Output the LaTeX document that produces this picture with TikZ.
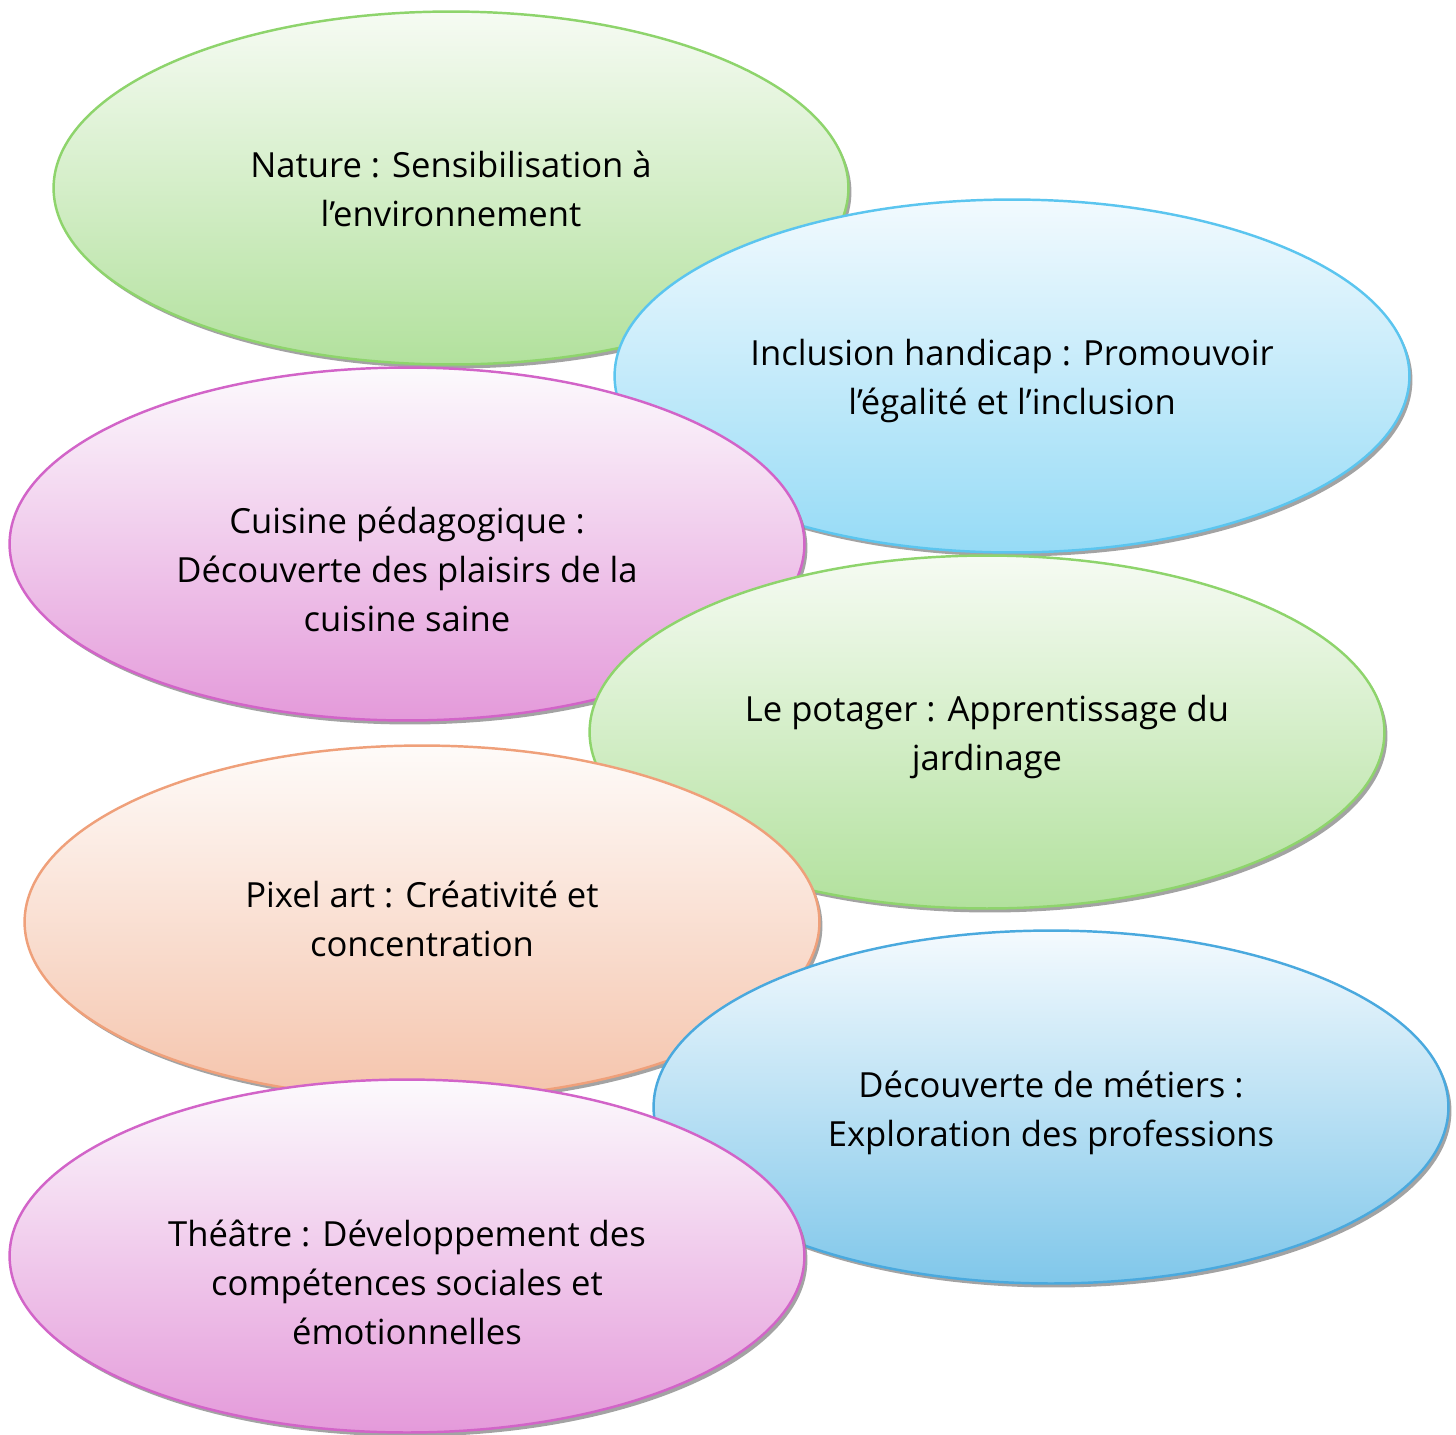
\documentclass[tikz,border=0pt]{standalone}
\usepackage{fontspec}
\setmainfont{Open Sans}
\usetikzlibrary{shapes.geometric,shadows}
\definecolor{vertT}{HTML}{8ED46C}
\definecolor{vertH}{HTML}{F6FBF3}
\definecolor{vertB}{HTML}{B2E19D}
\definecolor{bleuT}{HTML}{5BC5EF}
\definecolor{bleuH}{HTML}{F2FAFE}
\definecolor{bleuB}{HTML}{96DBF6}
\definecolor{roseT}{HTML}{D264C8}
\definecolor{roseH}{HTML}{FCFAFD}
\definecolor{roseB}{HTML}{E49ADA}
\definecolor{orangeT}{HTML}{EFA07A}
\definecolor{orangeH}{HTML}{FEFBF9}
\definecolor{orangeB}{HTML}{F5C4AC}
\definecolor{azurT}{HTML}{4AA9DE}
\definecolor{azurH}{HTML}{F4FAFE}
\definecolor{azurB}{HTML}{80C7EA}

\begin{document}
\begin{tikzpicture}[line cap=round,line join=round,x=0.02cm,y=-0.02cm,
  bulle/.style={ellipse,minimum width=15.9cm,minimum height=7.06cm,line width=1.4pt,
    drop shadow={shadow xshift=0.06cm,shadow yshift=-0.08cm,fill=black!45,opacity=0.8}},
  vert/.style={bulle,draw=vertT,top color=vertH,bottom color=vertB},
  bleu/.style={bulle,draw=bleuT,top color=bleuH,bottom color=bleuB},
  rose/.style={bulle,draw=roseT,top color=roseH,bottom color=roseB},
  orange/.style={bulle,draw=orangeT,top color=orangeH,bottom color=orangeB},
  azur/.style={bulle,draw=azurT,top color=azurH,bottom color=azurB},
  txt/.style={align=center,anchor=north,inner sep=0pt,font=\fontsize{19.7}{27.9}\selectfont}]
\useasboundingbox (0,0) rectangle (1456,1434);
% les bulles, de haut en bas
\node[vert] (nature) at (451,188) {};
\node[txt] (natureT) at (451,151) {Nature : Sensibilisation à\\ l’environnement};
\node[bleu] (inclusion) at (1012,376) {};
\node[txt] (inclusionT) at (1012,339) {Inclusion handicap : Promouvoir\\ l’égalité et l’inclusion};
\node[rose] (cuisine) at (407,544) {};
\node[txt] (cuisineT) at (407,507) {Cuisine pédagogique :\\ Découverte des plaisirs de la\\ cuisine saine};
\node[vert] (potager) at (987,732) {};
\node[txt] (potagerT) at (987,695) {Le potager : Apprentissage du\\ jardinage};
\node[orange] (pixel) at (422,922) {};
\node[txt] (pixelT) at (422,881) {Pixel art : Créativité et\\ concentration};
\node[azur] (metiers) at (1051,1107) {};
\node[txt] (metiersT) at (1051,1071) {Découverte de métiers :\\ Exploration des professions};
\node[rose] (theatre) at (407,1256) {};
\node[txt] (theatreT) at (407,1220) {Théâtre : Développement des\\ compétences sociales et\\ émotionnelles};
\end{tikzpicture}
\end{document}
